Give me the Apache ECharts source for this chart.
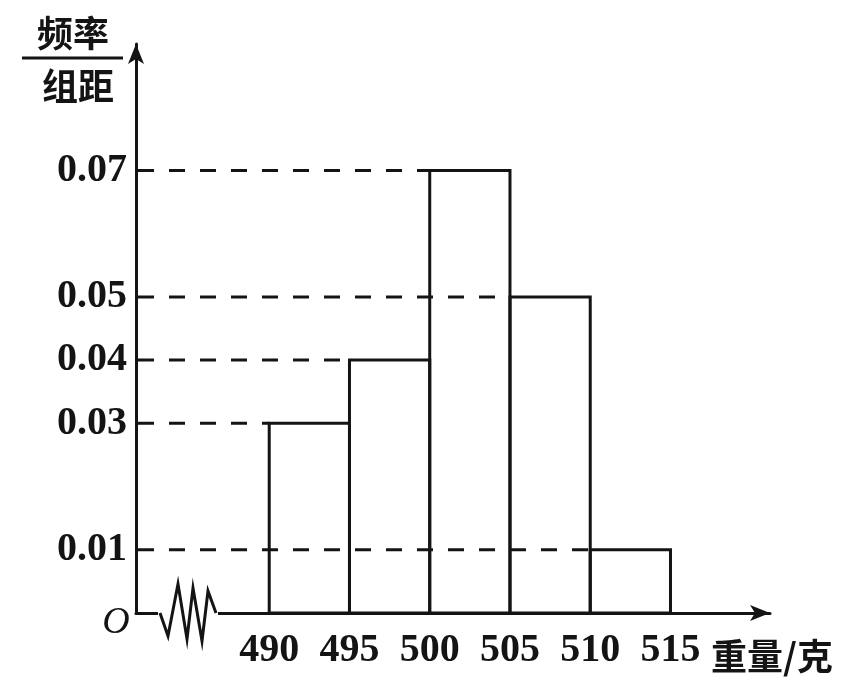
<!DOCTYPE html>
<html>
<head>
<meta charset="utf-8">
<script src="https://cdn.jsdelivr.net/npm/echarts@6/dist/echarts.min.js"></script>
<style>
html,body{margin:0;padding:0;background:#fff;}
#chart{width:857px;height:681px;}
</style>
</head>
<body>
<div id="chart"></div>
<script>
// ---- data ----
const binStarts = [490, 495, 500, 505, 510];
const binEnds   = [495, 500, 505, 510, 515];
const densities = [0.03, 0.04, 0.07, 0.05, 0.01];
const xTickLabels = [490, 495, 500, 505, 510, 515];
const yTickLabels = [0.01, 0.03, 0.04, 0.05, 0.07];

const X_MIN = 481.7, X_MAX = 521.2, Y_MAX = 0.09;
const INK = '#141414';
const SERIF = '"Liberation Serif", "Times New Roman", serif';
const CJK = '"Noto Sans CJK SC", sans-serif';

const chart = echarts.init(document.getElementById('chart'), null, {renderer: 'canvas'});

const binData = binStarts.map((s, i) => [s, binEnds[i], densities[i]]);

chart.setOption({
  animation: false,
  backgroundColor: '#fff',
  grid: {left: 136, right: 87, top: 44, bottom: 68, containLabel: false},
  xAxis: {
    type: 'value', min: X_MIN, max: X_MAX,
    splitLine: {show: false},
    axisTick: {show: false},
    axisLine: {show: true, lineStyle: {color: INK, width: 3}, symbol: ['none', 'arrow'], symbolSize: [12, 20]},
    axisLabel: {
      customValues: xTickLabels,
      color: INK, fontFamily: SERIF, fontSize: 40, fontWeight: 'bold', margin: 18,
      formatter: v => String(Math.round(v))
    }
  },
  yAxis: {
    type: 'value', min: 0, max: Y_MAX,
    splitLine: {show: false},
    axisTick: {show: false},
    axisLine: {show: true, lineStyle: {color: INK, width: 3}, symbol: ['none', 'arrow'], symbolSize: [12, 20]},
    axisLabel: {
      customValues: yTickLabels,
      color: INK, fontFamily: SERIF, fontSize: 40, fontWeight: 'bold', margin: 9,
      formatter: v => v.toFixed(2)
    }
  },
  series: [{
    type: 'custom',
    data: binData,
    encode: {x: [0, 1], y: 2},
    renderItem: function (params, api) {
      const lo = api.value(0), hi = api.value(1), h = api.value(2);
      const pTop = api.coord([lo, h]);
      const pBot = api.coord([hi, 0]);
      const axisX = api.coord([X_MIN, h])[0];
      return {
        type: 'group',
        children: [
          {type: 'line', shape: {x1: axisX + 2, y1: pTop[1], x2: pTop[0], y2: pTop[1]},
           style: {stroke: INK, lineWidth: 3, lineDash: [16, 15]}},
          {type: 'rect', shape: {x: pTop[0], y: pTop[1], width: pBot[0] - pTop[0], height: pBot[1] - pTop[1]},
           style: {fill: 'none', stroke: INK, lineWidth: 3}}
        ]
      };
    }
  }]
});

// decorations: axis break zigzag, origin label, axis names
const o = chart.convertToPixel({gridIndex: 0}, [X_MIN, 0]);
const ox = o[0], oy = o[1];
const zig = [[24,0],[32,23],[42,-29],[51,26],[57,-25],[66,28],[72,-22],[80,0]];
chart.setOption({
  graphic: [
    {type: 'rect', z: 100, shape: {x: ox + 22, y: oy - 3, width: 60, height: 6}, style: {fill: '#fff'}},
    {type: 'polyline', z: 101, shape: {points: zig.map(p => [ox + p[0], oy + p[1]])},
     style: {stroke: INK, lineWidth: 3, fill: 'none', lineJoin: 'miter'}},
    {type: 'text', z: 101, x: ox - 20, y: oy + 10,
     style: {text: 'O', font: 'italic 38px ' + SERIF, fill: INK, align: 'center', verticalAlign: 'middle'}},
    {type: 'text', z: 101, x: 73, y: 33,
     style: {text: '频率', font: 'bold 36px ' + CJK, fill: INK, align: 'center', verticalAlign: 'middle'}},
    {type: 'line', z: 101, shape: {x1: 22, y1: 58, x2: 123, y2: 58}, style: {stroke: INK, lineWidth: 3}},
    {type: 'text', z: 101, x: 78, y: 86,
     style: {text: '组距', font: 'bold 36px ' + CJK, fill: INK, align: 'center', verticalAlign: 'middle'}},
    {type: 'text', z: 101, x: 772, y: 656,
     style: {text: '重量/克', font: 'bold 36px ' + CJK, fill: INK, align: 'center', verticalAlign: 'middle'}}
  ]
});
</script>
</body>
</html>
